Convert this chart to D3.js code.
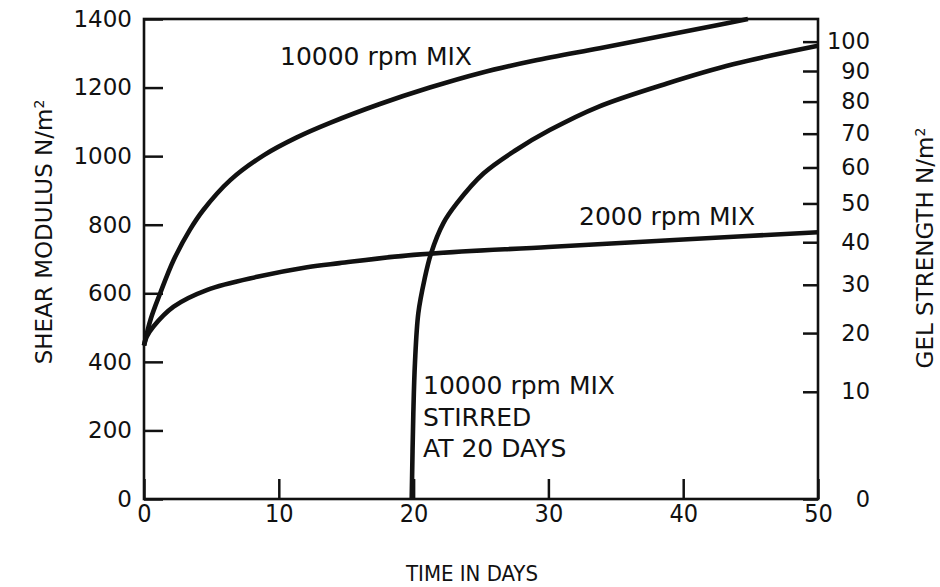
<!DOCTYPE html>
<html>
<head>
<meta charset="utf-8">
<script src="https://cdn.jsdelivr.net/npm/d3@7"></script>
<style>
    body { margin: 0; background: #fff; }
    #chart { width: 940px; height: 587px; }
    text { font-family: "DejaVu Sans", sans-serif; fill: #111; }
    .narrow { font-family: "DejaVu Sans Condensed", "Liberation Sans Narrow", "DejaVu Sans", sans-serif; }
</style>
</head>
<body>
<div id="chart"></div>
<script>
// Tick values
const dayTicks = [0, 10, 20, 30, 40, 50];
const modulusTicks = [0, 200, 400, 600, 800, 1000, 1200, 1400];
const gelTicks = [0, 10, 20, 30, 40, 50, 60, 70, 80, 90, 100];

// 10000 rpm mix
const days10k = [0, 0.5, 1.2, 2.2, 3.4, 4.4, 6.4, 8.9, 11.3, 13.8, 17.5, 21.2, 24.9, 28.9, 33.8, 38.8, 42.5, 44.8];
const modulus10k = [448, 525, 600, 697, 785, 843, 930, 1003, 1054, 1097, 1152, 1200, 1242, 1278, 1315, 1353, 1382, 1400];

// 2000 rpm mix
const days2k = [0, 0.2, 0.7, 2.2, 4.7, 8.4, 12.1, 14.5, 20, 30, 40, 50];
const modulus2k = [448, 473, 503, 561, 610, 648, 676, 688, 712, 735, 757, 778];

// 10000 rpm mix, stirred at 20 days
const daysStirred = [19.86, 19.98, 20.1, 20.35, 20.8, 21.3, 22.2, 23.2, 25.2, 27.6, 30.1, 33.7, 38.8, 43.7, 50];
const modulusStirred = [0, 250, 396, 542, 639, 717, 804, 862, 950, 1018, 1076, 1144, 1212, 1268, 1322];

class ModulusChart {
    constructor(containerId) {
        this.container = d3.select(`#${containerId}`);
        this.width = 940;
        this.height = 587;
        this.margin = { top: 19, right: 122, bottom: 88, left: 144 };
    }

    render() {
        const { width, height, margin } = this;
        const innerWidth = width - margin.left - margin.right;
        const innerHeight = height - margin.top - margin.bottom;

        const svg = this.container.append('svg')
            .attr('width', width)
            .attr('height', height);

        const g = svg.append('g')
            .attr('transform', `translate(${margin.left},${margin.top})`);

        const x = d3.scaleLinear().domain([0, 50]).range([0, innerWidth]);
        const y = d3.scaleLinear().domain([0, 1400]).range([innerHeight, 0]);
        // gel strength axis is non-linear against shear modulus
        const yGel = d3.scalePow().exponent(0.63).domain([0, 100]).range([innerHeight, y(1334)]);

        // Axes (ticks point inward)
        const left = g.append('g')
            .call(d3.axisLeft(y).tickValues(modulusTicks).tickFormat(d3.format('d')).tickSize(-19).tickPadding(12));
        left.selectAll('text').style('font-size', '23px');

        const bottom = g.append('g')
            .attr('transform', `translate(0,${innerHeight})`)
            .call(d3.axisBottom(x).tickValues(dayTicks).tickSize(-20).tickPadding(5));
        bottom.selectAll('text').attr('class', 'narrow').style('font-size', '25px');

        const right = g.append('g')
            .attr('transform', `translate(${innerWidth},0)`)
            .call(d3.axisRight(yGel).tickValues(gelTicks).tickSize(-15).tickPadding(52));
        right.selectAll('text').attr('text-anchor', 'end').style('font-size', '22.5px');

        g.selectAll('.domain').remove();
        g.selectAll('.tick line').attr('stroke', '#111').attr('stroke-width', 2.5);

        // Frame
        g.append('rect')
            .attr('width', innerWidth)
            .attr('height', innerHeight)
            .attr('fill', 'none')
            .attr('stroke', '#111')
            .attr('stroke-width', 2.6);

        // Curves
        const line = d3.line()
            .x(d => x(d[0]))
            .y(d => y(d[1]))
            .curve(d3.curveCatmullRom.alpha(0.5));

        const series = [
            d3.zip(days10k, modulus10k),
            d3.zip(days2k, modulus2k),
            d3.zip(daysStirred, modulusStirred)
        ];

        g.selectAll('.curve')
            .data(series)
            .enter()
            .append('path')
            .attr('class', 'curve')
            .attr('d', line)
            .attr('fill', 'none')
            .attr('stroke', '#111')
            .attr('stroke-width', 4.6)
            .attr('stroke-linejoin', 'round');

        // Curve labels
        const label = (tx, ty, str) => svg.append('text')
            .attr('x', tx).attr('y', ty)
            .style('font-size', '25px')
            .text(str);
        label(280, 65, '10000 rpm MIX');
        label(579, 225, '2000 rpm MIX');
        label(423, 394, '10000 rpm MIX');
        label(423, 426, 'STIRRED');
        label(423, 457, 'AT 20 DAYS');

        // Axis titles
        const leftTitle = svg.append('text')
            .attr('transform', 'translate(52,232) rotate(-90)')
            .attr('text-anchor', 'middle')
            .style('font-size', '23px');
        leftTitle.append('tspan').text('SHEAR MODULUS N/m');
        leftTitle.append('tspan').attr('dy', '-0.55em').style('font-size', '14px').text('2');

        const rightTitle = svg.append('text')
            .attr('transform', 'translate(933,248) rotate(-90)')
            .attr('text-anchor', 'middle')
            .style('font-size', '23px');
        rightTitle.append('tspan').text('GEL STRENGTH N/m');
        rightTitle.append('tspan').attr('dy', '-0.55em').style('font-size', '14px').text('2');

        svg.append('text')
            .attr('class', 'narrow')
            .attr('x', 472)
            .attr('y', 581)
            .attr('text-anchor', 'middle')
            .style('font-size', '22px')
            .text('TIME IN DAYS');
    }
}

const chart = new ModulusChart('chart');
chart.render();
</script>
</body>
</html>
